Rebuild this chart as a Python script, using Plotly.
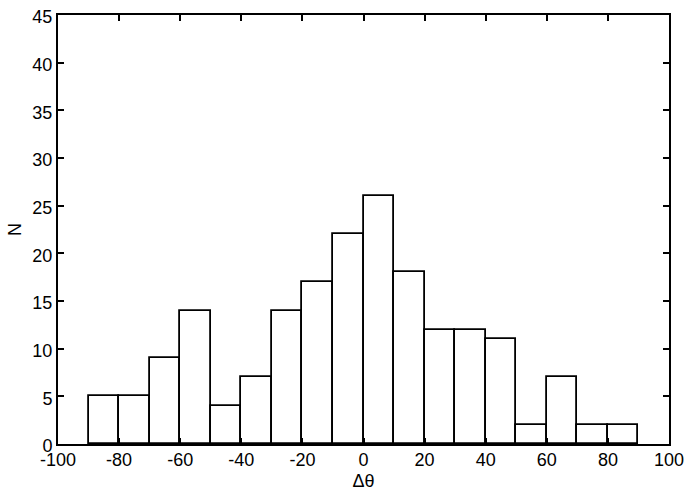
import plotly.graph_objects as go

bin_starts = [-90, -80, -70, -60, -50, -40, -30, -20, -10, 0, 10, 20, 30, 40, 50, 60, 70, 80]
counts = [5, 5, 9, 14, 4, 7, 14, 17, 22, 26, 18, 12, 12, 11, 2, 7, 2, 2]
bin_width = 10
x_ticks = [-100, -80, -60, -40, -20, 0, 20, 40, 60, 80, 100]
y_ticks = [0, 5, 10, 15, 20, 25, 30, 35, 40, 45]

centers = [s + bin_width / 2 for s in bin_starts]

fig = go.Figure(go.Bar(
    x=centers, y=counts, width=bin_width,
    marker=dict(color="white", line=dict(color="black", width=1.8)),
))

font = dict(family="Liberation Sans, Arial, sans-serif", size=18, color="black")
axis_common = dict(
    showgrid=False, zeroline=False, showline=True, linecolor="black", linewidth=2,
    mirror="allticks", ticks="inside", ticklen=6, tickwidth=2, tickcolor="black",
    tickfont=font, automargin=False,
)
fig.update_layout(
    width=694, height=498,
    margin=dict(l=58, r=25, t=15, b=54),
    plot_bgcolor="white", paper_bgcolor="white",
    showlegend=False, bargap=0,
    xaxis=dict(range=[-100, 100], tickvals=x_ticks, ticktext=[str(v) for v in x_ticks],
               title=dict(text="Δθ", font=font, standoff=6), ticklabelstandoff=-2, **axis_common),
    yaxis=dict(range=[0, 45], tickvals=y_ticks, ticktext=[str(v) for v in y_ticks],
               title=dict(text="N", font=font, standoff=6), ticklabelstandoff=0,
               ticklabelshift=2, **axis_common),
    font=font,
)
fig.write_html("out.html", config={"displayModeBar": False},
               post_script="document.body.style.margin='0px';document.body.style.overflow='hidden';")
